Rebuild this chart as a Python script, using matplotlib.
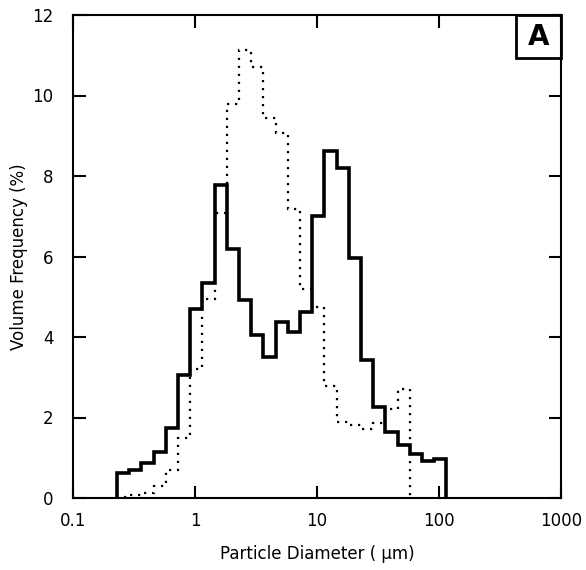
import numpy as np
import matplotlib
matplotlib.use('Agg')
import matplotlib.pyplot as plt
from matplotlib.patches import Rectangle

# bin edges (um): ~10 bins per decade
edges = [0.23, 0.29, 0.36, 0.46, 0.58, 0.72, 0.91, 1.15, 1.45, 1.82, 2.29,
         2.88, 3.63, 4.57, 5.75, 7.24, 9.12, 11.5, 14.5, 18.2, 22.9, 28.8,
         36.3, 45.7, 57.5, 72.4, 91.2, 115]

# solid histogram (27 bins)
solid = [0.62, 0.69, 0.86, 1.14, 1.74, 3.05, 4.69, 5.33, 7.77, 6.18, 4.91,
         4.04, 3.5, 4.37, 4.12, 4.62, 7.0, 8.62, 8.21, 5.97, 3.42, 2.27,
         1.64, 1.31, 1.09, 0.92, 0.97]

# dotted histogram (24 bins)
dotted = [0.03, 0.07, 0.13, 0.3, 0.7, 1.5, 3.2, 4.95, 7.07, 9.8, 11.14,
          10.7, 9.45, 9.06, 7.17, 5.19, 4.75, 2.78, 1.89, 1.81, 1.71, 1.86,
          2.22, 2.72]

xticks = [0.1, 1, 10, 100, 1000]
xticklabels = ['0.1', '1', '10', '100', '1000']
yticks = [0, 2, 4, 6, 8, 10, 12]

fig = plt.figure(figsize=(5.86, 5.70), dpi=100)
ax = fig.add_axes([73/586, 72/570, 488/586, 483/570])

ax.stairs(dotted, edges[:len(dotted)+1], baseline=0, color='black',
          lw=1.6, linestyle=(0, (1, 2.6)))
ax.stairs(solid, edges[:len(solid)+1], baseline=0, color='black', lw=2.6)

ax.set_xscale('log')
ax.set_xlim(0.1, 1000)
ax.set_ylim(0, 12)
ax.set_xticks(xticks)
ax.set_xticklabels(xticklabels)
ax.xaxis.set_minor_locator(matplotlib.ticker.NullLocator())
ax.set_yticks(yticks)

ax.tick_params(direction='in', length=9, width=1.5, labelsize=12,
               top=True, right=True)
ax.tick_params(axis='x', pad=10)
ax.tick_params(axis='y', pad=14)
for s in ax.spines.values():
    s.set_linewidth(1.5)

ax.set_xlabel('Particle Diameter ( \u03bcm)', fontsize=12, labelpad=11)
ax.set_ylabel('Volume Frequency (%)', fontsize=12, labelpad=3)

# panel letter box
ax.add_patch(Rectangle((0.908, 0.911), 0.092, 0.089, transform=ax.transAxes,
                       fill=False, lw=2, color='black', clip_on=False))
ax.text(0.954, 0.955, 'A', transform=ax.transAxes, ha='center', va='center',
        fontsize=20, fontweight='bold')

fig.savefig('out.png', dpi=100)
